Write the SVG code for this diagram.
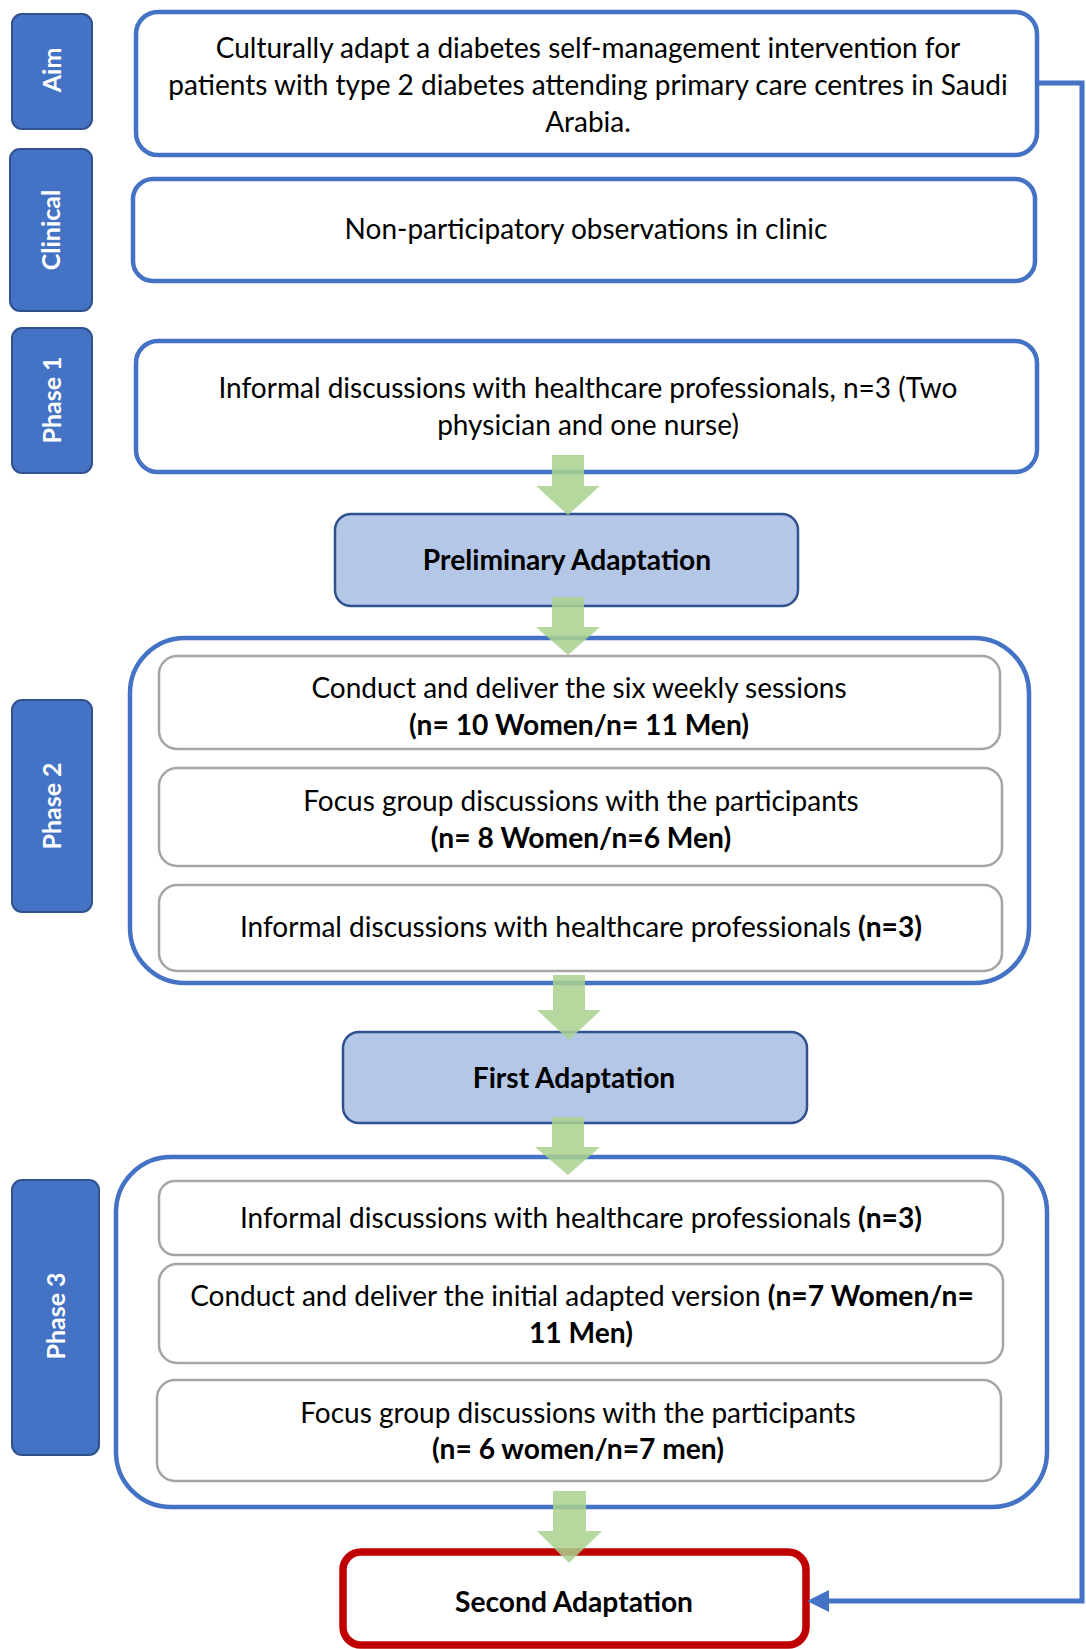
<svg xmlns="http://www.w3.org/2000/svg" width="1086" height="1649" viewBox="0 0 1086 1649">
<style>
.side{fill:#4472C4;stroke:#2F528F;stroke-width:2}
.side-t{fill:#fff;font-family:Lato,"Liberation Sans",sans-serif;font-weight:bold;font-size:25px;text-anchor:middle}
.main{fill:#fff;stroke:#4472C4;stroke-width:4.5}
.inner{fill:#fff;stroke:#A5A5A5;stroke-width:2.5}
.adapt{fill:#B4C7E7;stroke:#2F528F;stroke-width:2.5}
.final{fill:#fff;stroke:#C00000;stroke-width:7.5}
.t{fill:#000;font-family:Lato,"Liberation Sans",sans-serif;font-size:28px;text-anchor:middle}
.b{font-weight:bold;font-size:28.2px}
.garrow{fill:#A9D18E;fill-opacity:0.85}
.conn{fill:none;stroke:#4472C4;stroke-width:5}
</style>
<defs>
<marker id="ah" viewBox="0 0 22 22" refX="14" refY="11" markerWidth="22" markerHeight="22" markerUnits="userSpaceOnUse" orient="auto">
<path d="M0,0 L22,11 L0,22 z" fill="#4472C4"/>
</marker>
</defs>
<rect width="1086" height="1649" fill="#fff"/>

<g id="label-aim"><rect class="side" x="12" y="14" width="80" height="115" rx="10"/><text class="side-t" transform="translate(52,70) rotate(-90)" dy="9">Aim</text></g>
<g id="label-clinical"><rect class="side" x="10" y="149" width="82" height="162" rx="10"/><text class="side-t" transform="translate(51,230) rotate(-90)" dy="9">Clinical</text></g>
<g id="label-phase1"><rect class="side" x="12" y="328" width="80" height="145" rx="10"/><text class="side-t" transform="translate(52,400) rotate(-90)" dy="9">Phase 1</text></g>
<g id="label-phase2"><rect class="side" x="12" y="700" width="80" height="212" rx="10"/><text class="side-t" transform="translate(52,806) rotate(-90)" dy="9">Phase 2</text></g>
<g id="label-phase3"><rect class="side" x="12" y="1180" width="87" height="275" rx="10"/><text class="side-t" transform="translate(56,1316) rotate(-90)" dy="9">Phase 3</text></g>

<g id="aim">
<rect class="main" x="136" y="12" width="901" height="143" rx="22"/>
<text class="t" x="588" y="58">Culturally adapt a diabetes self-management intervention for</text>
<text class="t" x="588" y="95">patients with type 2 diabetes attending primary care centres in Saudi</text>
<text class="t" x="588" y="132">Arabia.</text>
</g>
<g id="clinical">
<rect class="main" x="133" y="179" width="902" height="102" rx="20"/>
<text class="t" x="586" y="239">Non-participatory observations in clinic</text>
</g>
<g id="phase1">
<rect class="main" x="136" y="341" width="901" height="131" rx="22"/>
<text class="t" x="588" y="398">Informal discussions with healthcare professionals, n=3 (Two</text>
<text class="t" x="588" y="435">physician and one nurse)</text>
</g>
<g id="preliminary">
<rect class="adapt" x="335" y="514" width="463" height="92" rx="16"/>
<text class="t b" x="567" y="570">Preliminary Adaptation</text>
</g>
<g id="phase2">
<rect class="main" x="130" y="638" width="899" height="345" rx="55"/>
<g id="p2-sessions"><rect class="inner" x="159" y="656" width="841" height="93" rx="18"/>
<text class="t" x="579" y="698">Conduct and deliver the six weekly sessions</text>
<text class="t b" x="579" y="735">(n= 10 Women/n= 11 Men)</text></g>
<g id="p2-focus"><rect class="inner" x="159" y="768" width="843" height="98" rx="18"/>
<text class="t" x="581" y="811">Focus group discussions with the participants</text>
<text class="t b" x="581" y="848">(n= 8 Women/n=6 Men)</text></g>
<g id="p2-informal"><rect class="inner" x="159" y="885" width="843" height="86" rx="18"/>
<text class="t" x="581" y="937">Informal discussions with healthcare professionals <tspan class="b">(n=3)</tspan></text></g>
</g>
<g id="first">
<rect class="adapt" x="343" y="1032" width="464" height="91" rx="16"/>
<text class="t b" x="574" y="1088">First Adaptation</text>
</g>
<g id="phase3">
<rect class="main" x="116" y="1157" width="931" height="350" rx="55"/>
<g id="p3-informal"><rect class="inner" x="159" y="1181" width="844" height="74" rx="16"/>
<text class="t" x="581" y="1228">Informal discussions with healthcare professionals <tspan class="b">(n=3)</tspan></text></g>
<g id="p3-deliver"><rect class="inner" x="159" y="1264" width="844" height="99" rx="18"/>
<text class="t" x="582" y="1306">Conduct and deliver the initial adapted version <tspan class="b">(n=7 Women/n=</tspan></text>
<text class="t b" x="581" y="1343">11 Men)</text></g>
<g id="p3-focus"><rect class="inner" x="157" y="1380" width="844" height="101" rx="18"/>
<text class="t" x="578" y="1423">Focus group discussions with the participants</text>
<text class="t b" x="578" y="1459">(n= 6 women/n=7 men)</text></g>
</g>
<g id="second">
<rect class="final" x="343" y="1552" width="463" height="93" rx="18"/>
<text class="t b" x="574" y="1612">Second Adaptation</text>
</g>

<g id="connectors">
<path class="conn" d="M1037,83 H1082 V1601 H815" marker-end="url(#ah)"/>
<polygon class="garrow" points="552,455 584,455 584,486 600,486 568,515 536,486 552,486"/>
<polygon class="garrow" points="552,597 584,597 584,627 600,627 568,655 536,627 552,627"/>
<polygon class="garrow" points="553,975 585,975 585,1010 601,1010 569,1040 537,1010 553,1010"/>
<polygon class="garrow" points="552,1117 584,1117 584,1147 600,1147 568,1175 535,1147 552,1147"/>
<polygon class="garrow" points="553,1491 586,1491 586,1531 602,1531 569,1563 537,1531 553,1531"/>
</g>
</svg>
